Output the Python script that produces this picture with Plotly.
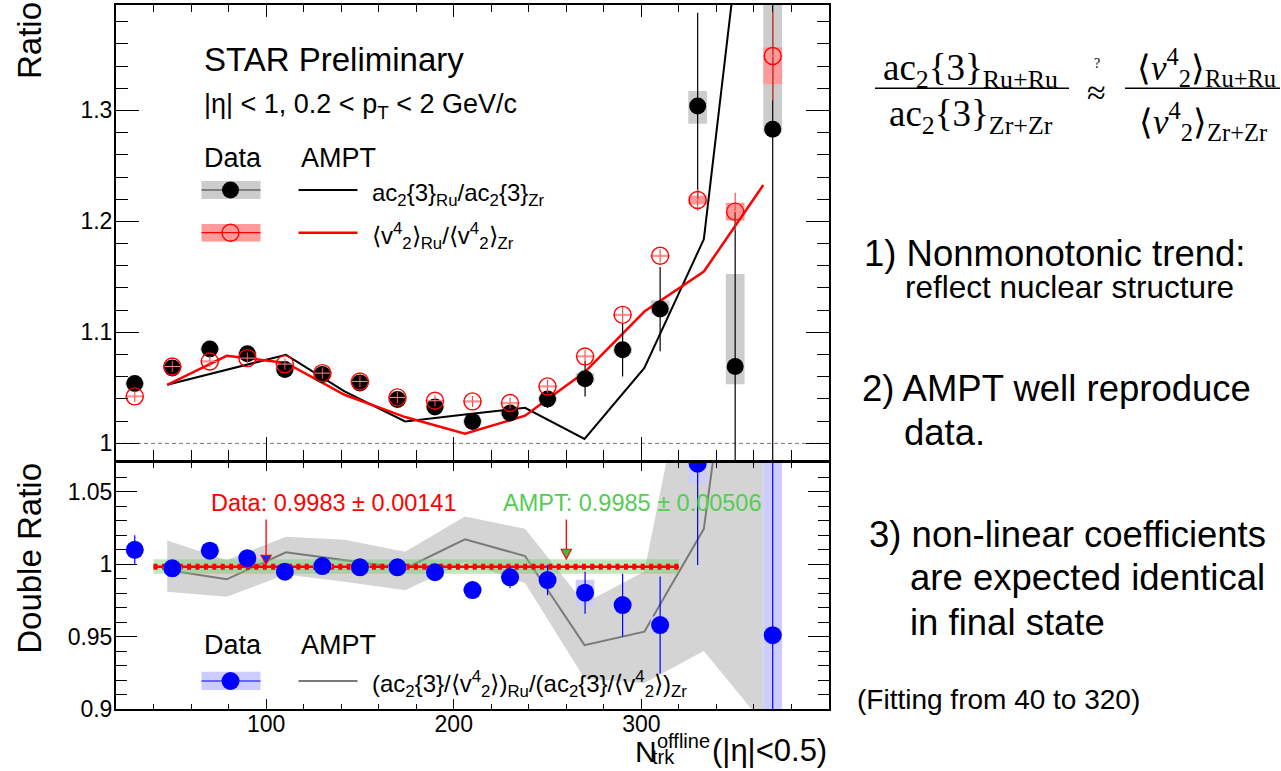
import plotly.graph_objects as go

W, H = 1281, 771
def px(x): return x / W
def py(y): return 1 - y / H

SANS = "Liberation Sans, Arial, Helvetica, sans-serif"
SERIF = "Liberation Serif, Times New Roman, serif"

# ---------------- data ----------------
n_trk = [30, 50, 70, 90, 110, 130, 150, 170, 190, 210, 230, 250, 270, 290, 310, 330, 350, 370]

ac2_ratio = [1.0540, 1.0680, 1.0850, 1.0808, 1.0665, 1.0621, 1.0543, 1.0395, 1.0327, 1.0198,
             1.0273, 1.0400, 1.0582, 1.0843, 1.1210, 1.3040, 1.0693, 1.2830]
ac2_stat = [0.006, 0.004, 0.005, 0.005, 0.004, 0.003, 0.003, 0.003, 0.003, 0.004,
            0.006, 0.008, 0.016, 0.024, 0.038, 0.084, 0.140, 0.600]
ac2_sys_dn = [0.002, 0.002, 0.002, 0.002, 0.002, 0.002, 0.002, 0.002, 0.002, 0.002,
              0.002, 0.002, 0.003, 0.003, 0.005, 0.016, 0.016, 0.003]
ac2_sys_up = [0.002, 0.002, 0.002, 0.002, 0.002, 0.002, 0.002, 0.002, 0.002, 0.002,
              0.002, 0.002, 0.005, 0.003, 0.008, 0.0135, 0.0834, 0.200]

v24_ratio = [1.0423, 1.0693, 1.0738, 1.0768, 1.0714, 1.0633, 1.0558, 1.0414, 1.0384, 1.0378,
             1.0363, 1.0513, 1.0783, 1.1158, 1.1690, 1.2193, 1.2088, 1.3490]
v24_stat = [0.005, 0.005, 0.005, 0.005, 0.005, 0.005, 0.005, 0.005, 0.005, 0.005,
            0.005, 0.006, 0.006, 0.007, 0.006, 0.010, 0.017, 0.040]
v24_sys_dn = [0.001, 0.001, 0.001, 0.001, 0.001, 0.001, 0.001, 0.001, 0.001, 0.001,
              0.001, 0.001, 0.001, 0.001, 0.001, 0.004, 0.008, 0.0255]
v24_sys_up = [0.001, 0.001, 0.001, 0.001, 0.001, 0.001, 0.001, 0.001, 0.001, 0.001,
              0.001, 0.001, 0.001, 0.001, 0.001, 0.004, 0.008, 0.008]

double_ratio = [1.0100, 0.9972, 1.0094, 1.0042, 0.9949, 0.9988, 0.9979, 0.9979, 0.9945, 0.9822,
                0.9910, 0.9891, 0.9804, 0.9718, 0.9580, 1.0695, 0.8850, 0.9510]
dr_stat = [0.010, 0.003, 0.004, 0.004, 0.003, 0.003, 0.003, 0.003, 0.003, 0.004,
           0.0075, 0.0105, 0.0145, 0.0217, 0.0335, 0.070, 0.0, 0.300]
dr_sys_dn = [0.001, 0.001, 0.001, 0.001, 0.001, 0.001, 0.001, 0.001, 0.001, 0.001,
             0.001, 0.001, 0.009, 0.002, 0.006, 0.0135, 0.0, 0.100]
dr_sys_up = [0.001, 0.001, 0.001, 0.001, 0.001, 0.001, 0.001, 0.001, 0.001, 0.001,
             0.001, 0.001, 0.009, 0.002, 0.006, 0.020, 0.0, 0.200]

ampt_n = [47.3, 79.0, 110.6, 141.8, 174.1, 206.0, 238.0, 269.7, 301.6, 333.3, 365.0]
ampt_ac2 = [1.0528, 1.0660, 1.0798, 1.0468, 1.0198, 1.0260, 1.0320, 1.0040, 1.0680, 1.1840, 1.6400]
ampt_v24 = [1.0528, 1.0789, 1.0725, 1.0438, 1.0237, 1.0087, 1.0249, 1.0640, 1.1188, 1.1548, 1.2328]
ampt_dr = [0.9960, 0.9896, 1.0083, 1.0030, 0.9972, 1.0173, 1.0057, 0.9441, 0.9534, 1.0245, 1.3300]
ampt_dr_hi = [1.0164, 1.0030, 1.0190, 1.0170, 1.0087, 1.0330, 1.0245, 0.9730, 0.9950, 1.2000, 1.6000]
ampt_dr_lo = [0.9810, 0.9776, 0.9930, 0.9880, 0.9820, 1.0015, 0.9870, 0.9210, 0.9180, 0.9400, 0.8900]

fit_range = [40, 320]
fit_data, fit_data_err = 0.9983, 0.00141
fit_ampt, fit_ampt_err = 0.9985, 0.00506
arrow_n = [100, 260]
arrow_tip = [1.0002, 1.0037]
arrow_base = [1.0061, 1.0104]
arrow_top = 1.031

x_ticks = [100, 200, 300]
x_tick_text = ["100", "200", "300"]

BOX_HALF = 5.0

def boxes(xs, ys, dn, up):
    bx, by = [], []
    for x, y, d, u in zip(xs, ys, dn, up):
        if d == 0 and u == 0:
            continue
        bx += [x - BOX_HALF, x + BOX_HALF, x + BOX_HALF, x - BOX_HALF, x - BOX_HALF, None]
        by += [y - d, y - d, y + u, y + u, y - d, None]
    return bx, by

fig = go.Figure()

# ---------- top panel ----------
bx, by = boxes(n_trk, ac2_ratio, ac2_sys_dn, ac2_sys_up)
fig.add_trace(go.Scatter(x=bx, y=by, mode="lines", fill="toself", fillcolor="#cccccc",
                         line=dict(width=0), xaxis="x", yaxis="y", hoverinfo="skip"))
bx, by = boxes(n_trk, v24_ratio, v24_sys_dn, v24_sys_up)
fig.add_trace(go.Scatter(x=bx, y=by, mode="lines", fill="toself", fillcolor="#ff9a9a",
                         line=dict(width=0), xaxis="x", yaxis="y", hoverinfo="skip"))
fig.add_trace(go.Scatter(x=ampt_n, y=ampt_ac2, mode="lines", line=dict(color="black", width=2),
                         xaxis="x", yaxis="y"))
fig.add_trace(go.Scatter(x=ampt_n, y=ampt_v24, mode="lines", line=dict(color="#ff0000", width=2.5),
                         xaxis="x", yaxis="y"))
fig.add_trace(go.Scatter(x=n_trk, y=ac2_ratio, mode="markers",
                         marker=dict(symbol="circle", size=17, color="black"),
                         error_y=dict(type="data", array=ac2_stat, color="black", thickness=1.2, width=0),
                         xaxis="x", yaxis="y"))
fig.add_trace(go.Scatter(x=n_trk, y=v24_ratio, mode="markers",
                         marker=dict(symbol="circle-open", size=17, color="#ff0000", line=dict(width=1.4)),
                         error_y=dict(type="data", array=v24_stat, color="#ff4040", thickness=1.1, width=0),
                         error_x=dict(type="constant", value=4.2, color="#ff9090", thickness=1, width=0),
                         xaxis="x", yaxis="y"))

# ---------- bottom panel ----------
fig.add_trace(go.Scatter(x=ampt_n + ampt_n[::-1], y=ampt_dr_hi + ampt_dr_lo[::-1], mode="lines",
                         fill="toself", fillcolor="#d4d4d4", line=dict(width=0),
                         xaxis="x2", yaxis="y2", hoverinfo="skip"))
fig.add_trace(go.Scatter(x=ampt_n, y=ampt_dr, mode="lines", line=dict(color="#7a7a7a", width=2),
                         xaxis="x2", yaxis="y2"))
fig.add_trace(go.Scatter(x=fit_range, y=[fit_ampt - fit_ampt_err] * 2, mode="lines",
                         line=dict(width=0), xaxis="x2", yaxis="y2", hoverinfo="skip"))
fig.add_trace(go.Scatter(x=fit_range, y=[fit_ampt + fit_ampt_err] * 2, mode="lines",
                         line=dict(width=0), fill="tonexty", fillcolor="rgba(110,205,110,0.45)",
                         xaxis="x2", yaxis="y2", hoverinfo="skip"))
fig.add_trace(go.Scatter(x=fit_range, y=[fit_data] * 2, mode="lines",
                         line=dict(color="#ff0000", width=2.5), xaxis="x2", yaxis="y2"))
fig.add_trace(go.Scatter(x=fit_range, y=[fit_data] * 2, mode="lines",
                         line=dict(color="#ff0000", width=6, dash="4px,4.4px"), xaxis="x2", yaxis="y2"))
bx, by = boxes(n_trk, double_ratio, dr_sys_dn, dr_sys_up)
fig.add_trace(go.Scatter(x=bx, y=by, mode="lines", fill="toself", fillcolor="#ccccff",
                         line=dict(width=0), xaxis="x2", yaxis="y2", hoverinfo="skip"))
fig.add_trace(go.Scatter(x=n_trk, y=double_ratio, mode="markers",
                         marker=dict(symbol="circle", size=18, color="#0000ff"),
                         error_y=dict(type="data", array=dr_stat, color="#0000ff", thickness=1.2, width=0),
                         xaxis="x2", yaxis="y2"))

# ---------- axes ----------
XD = [px(116), px(829)]
YD_TOP = [py(460), py(5)]
YD_BOT = [py(709), py(463)]
tickfont = dict(family=SANS, size=23, color="black")

def xax(anchor, side, ticklen, mlen, labels, overlay=None):
    d = dict(domain=XD, range=[20, 400], anchor=anchor, side=side, ticks="inside",
             tickmode="array", tickvals=x_ticks, ticktext=x_tick_text,
             ticklen=ticklen, tickwidth=1.3, tickcolor="black",
             minor=dict(ticks="inside", tickmode="linear", dtick=20, tick0=0, ticklen=mlen,
                        tickwidth=1.3, tickcolor="black"),
             showgrid=False, zeroline=False, showticklabels=labels, tickfont=tickfont,
             ticklabelstandoff=-7, automargin=False)
    if overlay:
        d.update(overlaying=overlay, showline=False)
    else:
        d.update(showline=True, linewidth=2, linecolor="black", mirror=True)
    return d

def yax(anchor, side, rng, dom, dt, t0, mdt, ticklen, mlen, labels, overlay=None):
    d = dict(domain=dom, range=rng, anchor=anchor, side=side, ticks="inside",
             tick0=t0, dtick=dt, ticklen=ticklen, tickwidth=1.3, tickcolor="black",
             minor=dict(ticks="inside", dtick=mdt, tick0=t0, ticklen=mlen, tickwidth=1.3, tickcolor="black"),
             showgrid=False, zeroline=False, showticklabels=labels, tickfont=tickfont,
             ticklabelstandoff=-3, automargin=False)
    if overlay:
        d.update(overlaying=overlay, showline=False)
    else:
        d.update(showline=True, linewidth=2, linecolor="black", mirror=True)
    return d

fig.update_layout(
    xaxis=xax("y", "bottom", 23, 10, False),
    xaxis3=xax("y", "top", 12, 7, False, overlay="x"),
    yaxis=yax("x", "left", [0.985, 1.395], YD_TOP, 0.1, 1.0, 0.02, 23, 12, True),
    yaxis3=yax("x", "right", [0.985, 1.395], YD_TOP, 0.1, 1.0, 0.02, 23, 12, False, overlay="y"),
    xaxis2=xax("y2", "bottom", 10, 5, True),
    xaxis4=xax("y2", "top", 8, 5, False, overlay="x2"),
    yaxis2=yax("x2", "left", [0.9, 1.07], YD_BOT, 0.05, 0.9, 0.01, 21, 11, True),
    yaxis4=yax("x2", "right", [0.9, 1.07], YD_BOT, 0.05, 0.9, 0.01, 21, 11, False, overlay="y2"),
)
fig.add_trace(go.Scatter(x=[None], y=[None], xaxis="x3", yaxis="y3", showlegend=False))
fig.add_trace(go.Scatter(x=[None], y=[None], xaxis="x4", yaxis="y4", showlegend=False))

shapes = []
shapes.append(dict(type="line", xref="x", yref="y", x0=20, x1=400, y0=1.0, y1=1.0,
                   line=dict(color="#777777", width=1, dash="4px,3px"), layer="below"))
arrow_fill = ["#2222ff", "#44bb44"]
TRI_HALF = 2.7
for xa, tip, base, fc in zip(arrow_n, arrow_tip, arrow_base, arrow_fill):
    shapes.append(dict(type="line", xref="x2", yref="y2", x0=xa, x1=xa, y0=arrow_top, y1=base,
                       line=dict(color="#ff0000", width=1.3)))
    shapes.append(dict(type="path", xref="x2", yref="y2",
                       path=f"M {xa-TRI_HALF},{base} L {xa+TRI_HALF},{base} L {xa},{tip} Z",
                       fillcolor=fc, line=dict(color="#ff0000", width=1.2)))

def rect(x0, x1, y0, y1, color):
    return dict(type="rect", xref="paper", yref="paper", x0=px(x0), x1=px(x1), y0=py(y1), y1=py(y0),
                fillcolor=color, line=dict(width=0))
def hline(x0, x1, y, color, width):
    return dict(type="line", xref="paper", yref="paper", x0=px(x0), x1=px(x1), y0=py(y), y1=py(y),
                line=dict(color=color, width=width))
def dot(x, y, r, fill, lcolor, lw):
    return dict(type="circle", xref="paper", yref="paper", xsizemode="pixel", ysizemode="pixel",
                xanchor=px(x), yanchor=py(y), x0=-r, x1=r, y0=-r, y1=r,
                fillcolor=fill, line=dict(color=lcolor, width=lw))

shapes += [
    rect(201.5, 260.5, 181, 199, "#cccccc"), hline(201.5, 260.5, 190, "#333333", 1.2),
    dot(230.5, 190, 8.5, "black", "black", 0), hline(298.5, 357.5, 190, "black", 2),
    rect(201.5, 260.5, 224, 241.5, "#ff9a9a"), hline(201.5, 260.5, 232.7, "#ff0000", 1.2),
    dot(230.5, 232.7, 8.5, "rgba(0,0,0,0)", "#ff0000", 1.4), hline(298.5, 357.5, 232.7, "#ff0000", 2.5),
    rect(201.5, 260.5, 671.7, 690, "#ccccff"), hline(201.5, 260.5, 681, "#0000ff", 1.2),
    dot(230.5, 681, 9, "#0000ff", "#0000ff", 0), hline(298.5, 357.5, 681, "#7a7a7a", 2),
    hline(875, 1069, 88.3, "black", 1.5), hline(1125, 1280, 88.3, "black", 1.5),
]

ann = []
def txt(x, y, s, size, color="black", xanchor="left", family=SANS, angle=0, yanchor="middle"):
    ann.append(dict(x=px(x), y=py(y), xref="paper", yref="paper", text=s, showarrow=False,
                    xanchor=xanchor, yanchor=yanchor, textangle=angle,
                    font=dict(family=family, size=size, color=color)))

txt(201.7, 60, "STAR Preliminary", 33)
txt(201.7, 106, "|η| < 1, 0.2 < p<sub>T</sub> < 2 GeV/c", 27)
txt(201.7, 158, "Data", 27)
txt(298.7, 158, "AMPT", 27)
txt(370, 194, "ac<sub>2</sub>{3}<sub>Ru</sub>/ac<sub>2</sub>{3}<sub>Zr</sub>", 24)
txt(370, 236, "⟨v<sup>4</sup><sub>2</sub>⟩<sub>Ru</sub>/⟨v<sup>4</sup><sub>2</sub>⟩<sub>Zr</sub>", 24)

txt(333, 503.3, "Data: 0.9983 ± 0.00141", 23.5, color="#ff0000", xanchor="center")
txt(632, 503.3, "AMPT: 0.9985 ± 0.00506", 23.5, color="#55cc55", xanchor="center")
txt(201.7, 644.5, "Data", 27)
txt(298.7, 644.5, "AMPT", 27)
txt(370, 684, "(ac<sub>2</sub>{3}/⟨v<sup>4</sup><sub>2</sub>⟩)<sub>Ru</sub>/(ac<sub>2</sub>{3}/⟨v<sup>4</sup><sub>2</sub>⟩)<sub>Zr</sub>", 24)

txt(29.5, 40.5, "Ratio", 33, xanchor="center", angle=-90)
txt(29.5, 558.3, "Double Ratio", 33, xanchor="center", angle=-90)
# x-axis title pieces, kept inside the page
txt(633, 770, "N", 30, yanchor="bottom")
txt(655, 741, "offline", 20)
txt(650, 770, "trk", 20, yanchor="bottom")
txt(710, 770, "(|η|<0.5)", 31, yanchor="bottom")

# right side formula
txt(971, 70, "ac<sub>2</sub>{3}<sub>Ru+Ru</sub>", 37, xanchor="center", family=SERIF)
txt(971, 116, "ac<sub>2</sub>{3}<sub>Zr+Zr</sub>", 37, xanchor="center", family=SERIF)
txt(1096.7, 92, "≈", 34, xanchor="center", family=SERIF)
txt(1096.7, 63, "?", 14, xanchor="center", family=SERIF)
txt(1278, 67, "⟨<i>v</i><sup>4</sup><sub>2</sub>⟩<sub>Ru+Ru</sub>", 35, xanchor="right", family=SERIF)
txt(1136.7, 121, "⟨<i>v</i><sup>4</sup><sub>2</sub>⟩<sub>Zr+Zr</sub>", 35, family=SERIF)

# right side notes
txt(861.7, 253.3, "1) Nonmonotonic trend:", 36.5)
txt(903.3, 287, "reflect nuclear structure", 31.5)
txt(860, 388, "2) AMPT well reproduce", 36.5)
txt(901.7, 432, "data.", 36.5)
txt(866.7, 534, "3) non-linear coefficients", 36.5)
txt(908.3, 577, "are expected identical", 36.5)
txt(908.3, 622, "in final state", 36.5)
txt(855, 699, "(Fitting from 40 to 320)", 28)

fig.update_layout(
    width=W, height=H, margin=dict(l=0, r=0, t=0, b=0, pad=0, autoexpand=False),
    paper_bgcolor="white", plot_bgcolor="white", showlegend=False,
    shapes=shapes, annotations=ann,
    font=dict(family=SANS, color="black"),
)

fig.write_html("out.html")
